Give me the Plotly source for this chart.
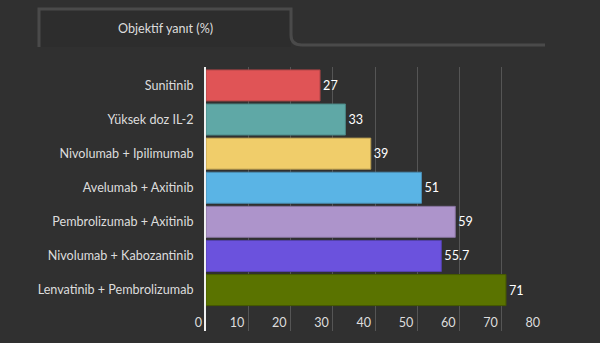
import plotly.graph_objects as go

categories = ["Sunitinib", "Yüksek doz IL-2", "Nivolumab + Ipilimumab", "Avelumab + Axitinib",
              "Pembrolizumab + Axitinib", "Nivolumab + Kabozantinib", "Lenvatinib + Pembrolizumab"]
values = [27, 33, 39, 51, 59, 55.7, 71]
value_labels = ["27", "33", "39", "51", "59", "55.7", "71"]
colors = ["#e05456", "#5fa8a6", "#f0cd6a", "#5ab4e5", "#ad94cb", "#6b52dd", "#5a7300"]
borders = ["#a84446", "#4a8583", "#b89c50", "#4a8cb2", "#85729c", "#5441ad", "#465a00"]
title_text = "Objektif yanıt (%)"
x_ticks = [0, 10, 20, 30, 40, 50, 60, 70, 80]

W, H = 600, 343
L, R, T, B = 206, 56, 67, 12
FONT = "Lato"
FS = 12.6
BG = "#303030"

def px(x):
    return (x - L) / (W - L - R)

def py(y):
    return 1 - (y - T) / (H - T - B)

fig = go.Figure(go.Bar(
    y=categories, x=values, orientation="h",
    marker=dict(color=colors, line=dict(color=borders, width=1)),
    text=value_labels, textposition="outside", cliponaxis=False,
    textfont=dict(color="#ffffff", size=FS, family=FONT),
    hoverinfo="skip",
))
# invisible helper trace so the tick-label axis is drawn
fig.add_trace(go.Scatter(x=[x_ticks[0]], y=[categories[0]], xaxis="x2", yaxis="y",
                         mode="markers", marker=dict(opacity=0), hoverinfo="skip"))

tab_path = (f"M {px(39)},{py(47)} L {px(39)},{py(9)} L {px(291)},{py(9)} L {px(291)},{py(35)} "
            f"Q {px(291)},{py(45)} {px(302)},{py(45)} L {px(545)},{py(45)}")

fig.update_layout(
    width=W, height=H,
    margin=dict(l=L, r=R, t=T, b=B, pad=0),
    paper_bgcolor=BG, plot_bgcolor=BG,
    showlegend=False,
    bargap=0.09,
    font=dict(family=FONT, size=FS, color="#dddddd"),
    xaxis=dict(range=[0, 80], tickvals=x_ticks, showgrid=True, gridcolor="#555555", gridwidth=1,
               zeroline=False, showline=False, ticks="", showticklabels=False),
    xaxis2=dict(range=[0, 80], tickvals=x_ticks, overlaying="x", anchor="free", position=py(313),
                side="bottom", showgrid=False, zeroline=False, showline=False, ticks="",
                ticklabelposition="outside left", ticklabelshift=-4,
                tickfont=dict(size=FS, color="#dddddd", family=FONT)),
    yaxis=dict(categoryorder="array", categoryarray=categories, range=[7.2, -0.54],
               showgrid=False, zeroline=False, showline=True, linecolor="#f0f0f0", linewidth=2,
               ticks="outside", ticklen=8, tickcolor="rgba(0,0,0,0)",
               tickfont=dict(size=FS, color="#dddddd", family=FONT)),
    shapes=[
        dict(type="rect", xref="paper", yref="paper", x0=px(39), x1=px(291), y0=py(47), y1=py(9),
             fillcolor="#2d2d2d", line=dict(width=0), layer="below"),
        dict(type="path", xref="paper", yref="paper", path=tab_path,
             line=dict(color="#4a4a4a", width=3)),
    ],
    annotations=[
        dict(text=title_text, xref="paper", yref="paper", x=px(165), y=py(28),
             showarrow=False, font=dict(size=FS, color="#dddddd", family=FONT),
             xanchor="center", yanchor="middle"),
    ],
)

fig.write_html("out.html")
